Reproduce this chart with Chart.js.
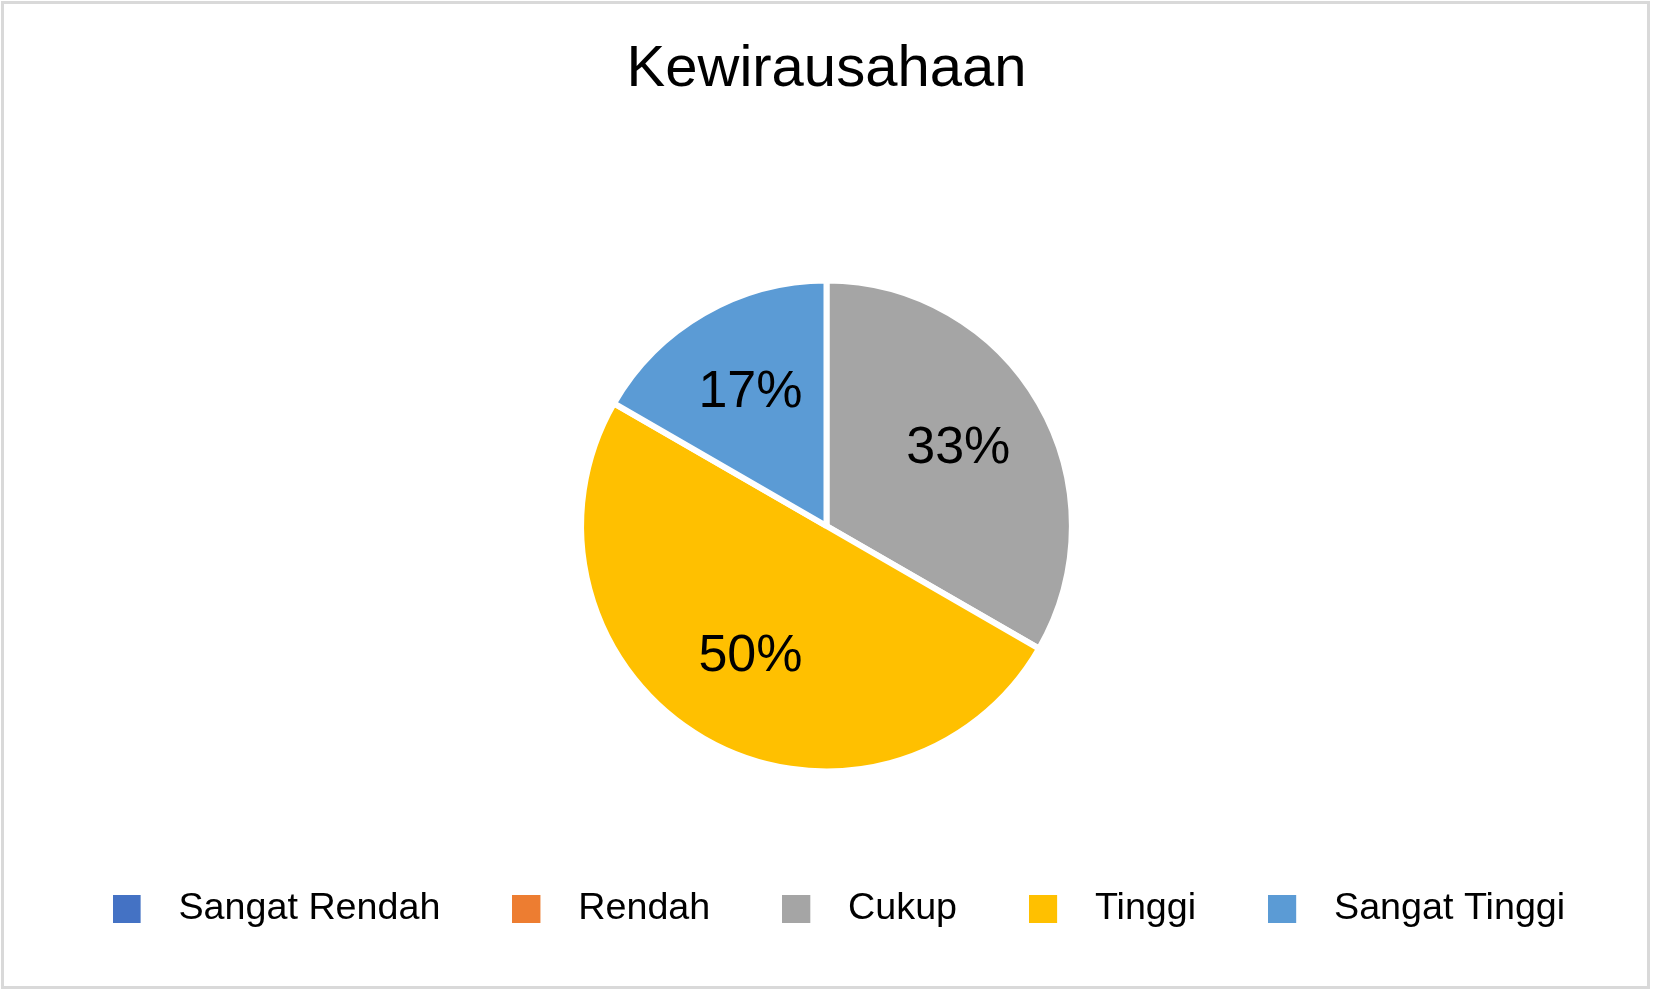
<!DOCTYPE html>
<html>
<head>
<meta charset="utf-8">
<script src="https://cdn.jsdelivr.net/npm/chart.js@4.4.1/dist/chart.umd.min.js"></script>
<style>
  html, body { margin: 0; padding: 0; background: #ffffff; overflow: hidden; }
  #frame { position: absolute; left: 1px; top: 1px; width: 1643px; height: 982px; border: 3px solid #d9d9d9; }
  #wrap { position: absolute; left: 0; top: 0; width: 1653px; height: 993px; }
  canvas { display: block; }
</style>
</head>
<body>
<div id="frame"></div>
<div id="wrap"><canvas id="c" width="1653" height="993" style="width:1653px;height:993px"></canvas></div>
<script>
const chartTitle = 'Kewirausahaan';
const categories = ['Sangat Rendah', 'Rendah', 'Cukup', 'Tinggi', 'Sangat Tinggi'];
const counts = [0, 0, 2, 3, 1];
const sliceColors = ['#4472C4', '#ED7D31', '#A5A5A5', '#FFC000', '#5B9BD5'];

const FONT = '"Liberation Sans", Arial, Helvetica, sans-serif';

function makeSwatch(color) {
  const cv = document.createElement('canvas');
  cv.width = 47;
  cv.height = 28;
  const g = cv.getContext('2d');
  g.fillStyle = color;
  g.fillRect(0, 0, 28, 28);
  return cv;
}

const pctLabels = {
  id: 'pctLabels',
  afterDatasetsDraw(chart) {
    const ctx = chart.ctx;
    const meta = chart.getDatasetMeta(0);
    const data = chart.data.datasets[0].data;
    const total = data.reduce((a, b) => a + b, 0);
    const size = 52;
    ctx.save();
    ctx.font = size + 'px ' + FONT;
    ctx.fillStyle = '#000000';
    ctx.textAlign = 'center';
    ctx.textBaseline = 'alphabetic';
    meta.data.forEach((arc, i) => {
      const v = data[i];
      if (!v) return;
      const p = arc.getProps(['x', 'y', 'startAngle', 'endAngle', 'outerRadius'], true);
      const mid = (p.startAngle + p.endAngle) / 2;
      const d = p.outerRadius * 0.62;
      const px = p.x + Math.cos(mid) * d;
      const py = p.y + Math.sin(mid) * d;
      ctx.fillText(Math.round(v / total * 100) + '%', px, py + size * 0.358 - 5.5);
    });
    ctx.restore();
  }
};

const legendShift = {
  id: 'legendShift',
  afterLayout(chart) {
    const l = chart.legend;
    if (l) { l.left += 12.4; l.right += 12.4; }
  }
};

new Chart(document.getElementById('c'), {
  type: 'pie',
  data: {
    labels: categories,
    datasets: [{
      data: counts,
      backgroundColor: sliceColors,
      borderColor: '#ffffff',
      borderWidth: 6,
      hoverBorderWidth: 6,
      hoverOffset: 0,
      radius: 245.4
    }]
  },
  options: {
    responsive: false,
    animation: false,
    layout: { padding: { top: 0, bottom: 55.5, left: 0, right: 0 } },
    plugins: {
      tooltip: { enabled: false },
      title: {
        display: true,
        text: chartTitle,
        color: '#000000',
        font: { family: FONT, size: 58, weight: 'normal', lineHeight: 1.2 },
        padding: { top: 35.2, bottom: 129.4 }
      },
      legend: {
        display: true,
        position: 'bottom',
        labels: {
          usePointStyle: true,
          pointStyleWidth: 47,
          padding: 72,
          color: '#000000',
          font: { family: FONT, size: 37.7 },
          generateLabels() {
            return categories.map((c, i) => ({
              text: c,
              fillStyle: sliceColors[i],
              strokeStyle: sliceColors[i],
              lineWidth: 0,
              pointStyle: makeSwatch(sliceColors[i]),
              hidden: false,
              index: i,
              fontColor: '#000000'
            }));
          }
        }
      }
    }
  },
  plugins: [pctLabels, legendShift]
});
</script>
</body>
</html>
